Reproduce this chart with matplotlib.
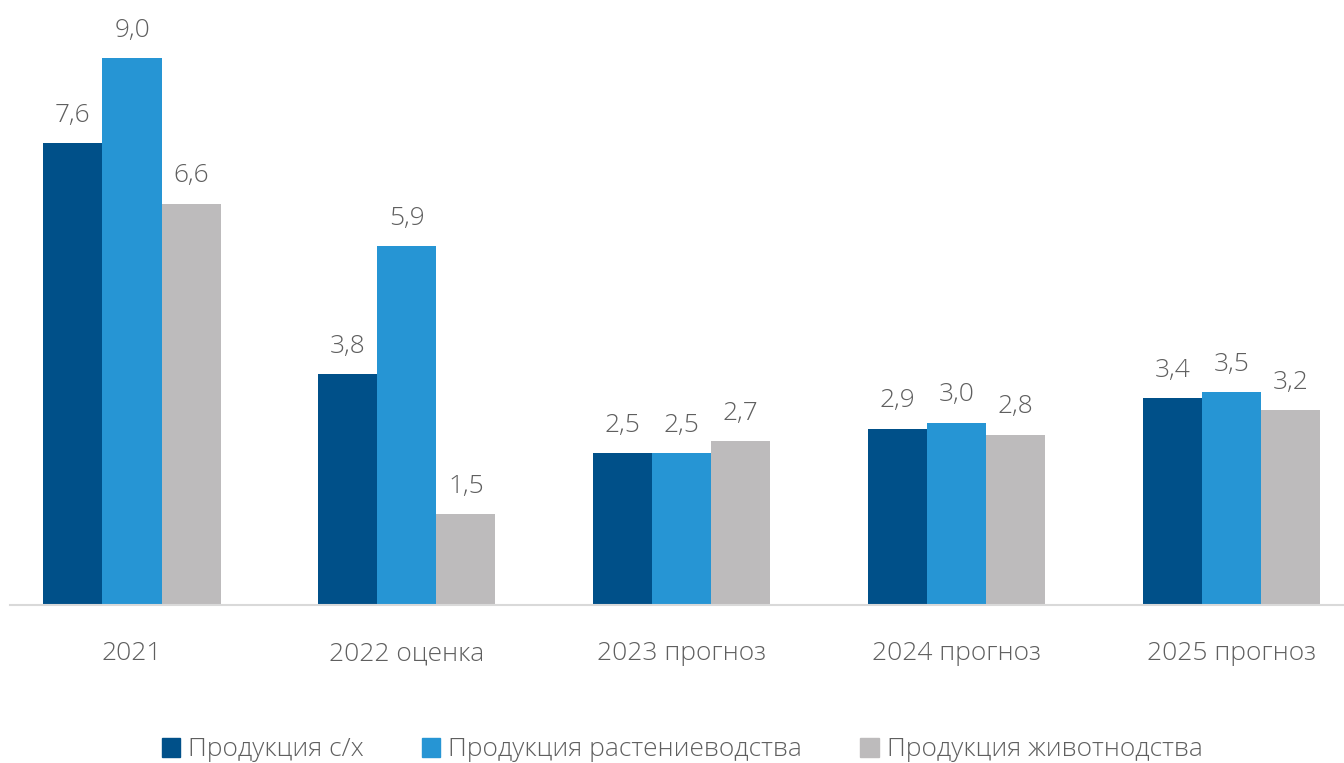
import matplotlib.pyplot as plt
import numpy as np
from matplotlib.patches import Patch

categories = ['2021', '2022 оценка', '2023 прогноз', '2024 прогноз', '2025 прогноз']
series_names = ['Продукция с/х', 'Продукция растениеводства', 'Продукция животнодства']
agri = [7.6, 3.8, 2.5, 2.9, 3.4]
crops = [9.0, 5.9, 2.5, 3.0, 3.5]
livestock = [6.6, 1.5, 2.7, 2.8, 3.2]
colors = ['#005089', '#2695D4', '#BDBBBC']

plt.rcParams['font.family'] = ['Open Sans', 'DejaVu Sans']

fig = plt.figure(figsize=(13.44, 7.63), dpi=100)
ax = fig.add_axes([10 / 1344, 1 - 605 / 763, 1 - 10 / 1344, 605 / 763])

x = np.arange(len(categories))
w = 0.215
for i, (vals, c) in enumerate(zip([agri, crops, livestock], colors)):
    pos = x + (i - 1) * w
    ax.bar(pos, vals, width=w, color=c)
    for p, v in zip(pos, vals):
        ax.annotate(f'{v:.1f}'.replace('.', ','), (p, v), xytext=(0, 20),
                    textcoords='offset points', ha='center', va='center',
                    fontsize=19, color='#5F5F5F', fontweight='light')

ax.set_xlim(-0.444, 4.41)
ax.set_ylim(0, 605 / 60.8)
for s in ['top', 'right', 'left']:
    ax.spines[s].set_visible(False)
ax.spines['bottom'].set_color('#D9D9D9')
ax.spines['bottom'].set_linewidth(1.5)
ax.set_yticks([])
ax.set_xticks(x)
ax.set_xticklabels(categories, fontsize=19, color='#5F5F5F', fontweight='light')
ax.tick_params(axis='x', length=0, pad=26)

handles = [Patch(color=c, label=n) for c, n in zip(colors, series_names)]
leg = fig.legend(handles=handles, loc='center', bbox_to_anchor=(682 / 1344, 1 - 750 / 763),
                 ncol=3, frameon=False, fontsize=19, handlelength=0.7, handleheight=0.7,
                 handletextpad=0.3, columnspacing=2.2)
for t in leg.get_texts():
    t.set_color('#5F5F5F')
    t.set_fontweight('light')

fig.savefig('out.png', dpi=100)
